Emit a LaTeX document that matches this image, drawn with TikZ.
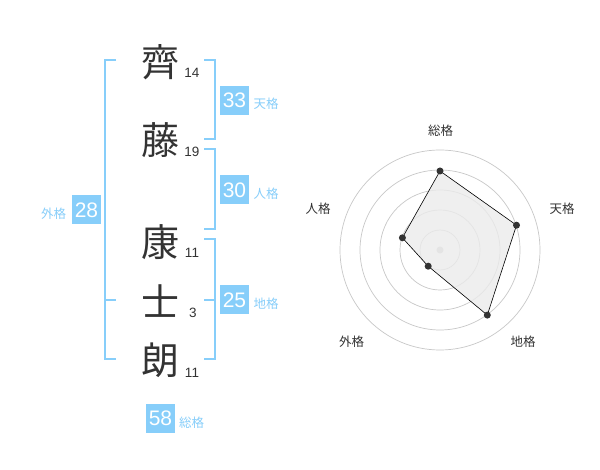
\documentclass[tikz,border=0pt]{standalone}
\usepackage{fontspec}
\setmainfont{Liberation Sans}
\newfontfamily\cjk{Noto Sans CJK JP}
\definecolor{sky}{HTML}{87CEFA}
\definecolor{ink}{HTML}{333333}
\definecolor{ring}{HTML}{C8C8C8}
\begin{document}
\begin{tikzpicture}[x=1pt,y=-1pt,
  kanji/.style={font=\cjk\fontsize{38}{38}\selectfont, text=ink, inner sep=0pt},
  strokes/.style={font=\fontsize{13.5}{13.5}\selectfont, text=ink, inner sep=0pt},
  numbox/.style={fill=sky, text=white, minimum width=29pt, minimum height=29pt, inner sep=0pt, font=\fontsize{21}{21}\selectfont},
  kaku/.style={font=\cjk\fontsize{12.5}{12.5}\selectfont, text=sky, inner sep=0pt},
  rlabel/.style={font=\cjk\fontsize{12.5}{12.5}\selectfont, text=ink, inner sep=0pt},
  brk/.style={draw=sky, line width=2pt},
  dot/.style={circle, fill=ink, inner sep=0pt, minimum size=7pt}
]
\useasboundingbox (0,0) rectangle (600,470);
\fill[white] (0,0) rectangle (600,470);
% characters
\node[kanji] (c1) at (160,62) {齊};
\node[kanji] (c2) at (160,140) {藤};
\node[kanji] (c3) at (160,242) {康};
\node[kanji] (c4) at (160,301) {士};
\node[kanji] (c5) at (160,360) {朗};
\node[strokes] (s1) at (192,73) {14};
\node[strokes] (s2) at (192,152) {19};
\node[strokes] (s3) at (192,253) {11};
\node[strokes] (s4) at (193,313) {3};
\node[strokes] (s5) at (192,373) {11};
% brackets
\draw[brk] (116,60) -- (105,60) -- (105,359) -- (116,359);
\draw[brk] (105,300) -- (116,300);
\draw[brk] (204,60) -- (215,60) -- (215,139) -- (204,139);
\draw[brk] (204,149) -- (215,149) -- (215,229) -- (204,229);
\draw[brk] (204,239) -- (215,239) -- (215,359) -- (204,359);
\draw[brk] (204,300) -- (215,300);
% boxes
\node[numbox] (ten) at (234.5,100.5) {33};
\node[kaku] (tenl) at (266,104) {天格};
\node[numbox] (jin) at (234.5,190) {30};
\node[kaku] (jinl) at (266,194) {人格};
\node[numbox] (chi) at (234.5,300) {25};
\node[kaku] (chil) at (266,304) {地格};
\node[numbox] (gai) at (86.5,210) {28};
\node[kaku] (gail) at (53.5,214) {外格};
\node[numbox] (sou) at (160.5,418.5) {58};
\node[kaku] (soul) at (191.5,422.5) {総格};
% radar
\coordinate (O) at (440,250);
\foreach \r in {20,40,60,80,100} \draw[ring, line width=0.7pt] (O) circle[radius=\r];
\fill[ring] (O) circle[radius=3.5];
\path (O) ++(0,-79) coordinate (p1);
\path (O) ++(76.5,-24.8) coordinate (p2);
\path (O) ++(47.3,65.1) coordinate (p3);
\path (O) ++(-11.8,16.2) coordinate (p4);
\path (O) ++(-37.6,-12.2) coordinate (p5);
\filldraw[fill=black!8, fill opacity=0.8, draw=black, line width=0.6pt] (p1) -- (p2) -- (p3) -- (p4) -- (p5) -- cycle;
\foreach \p in {p1,p2,p3,p4,p5} \node[dot] at (\p) {};
\node[rlabel] (r1) at (440.5,130.5) {総格};
\node[rlabel] (r2) at (562,209) {天格};
\node[rlabel] (r3) at (318,209) {人格};
\node[rlabel] (r4) at (351.5,341.5) {外格};
\node[rlabel] (r5) at (523,341.5) {地格};
\end{tikzpicture}
\end{document}
